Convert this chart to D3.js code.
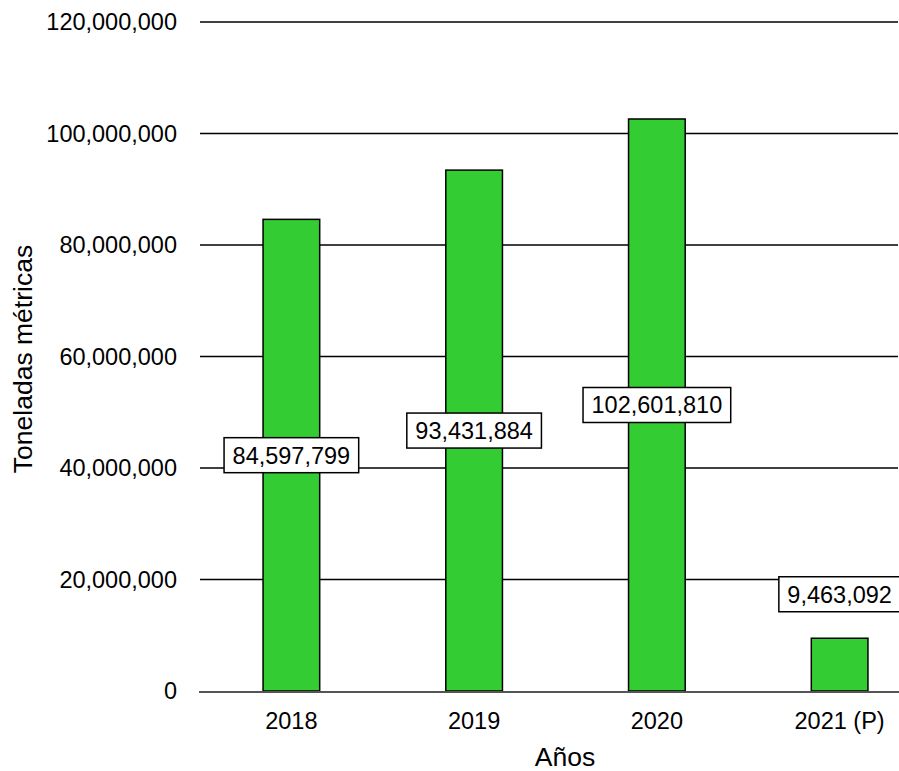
<!DOCTYPE html>
<html>
<head>
<meta charset="utf-8">
<script src="https://cdn.jsdelivr.net/npm/d3@7"></script>
<style>
  body { margin: 0; background: #fff; }
  text { font-family: "Liberation Sans", Arial, sans-serif; fill: #000; }
</style>
</head>
<body>
<div id="chart"></div>
<script>
// Data
const years = ["2018", "2019", "2020", "2021 (P)"];
const tonnes = [84597799, 93431884, 102601810, 9463092];
const yTicks = [0, 20000000, 40000000, 60000000, 80000000, 100000000, 120000000];

const width = 899, height = 771;
const fontSize = 23.5;
const titleSize = 26.5;

const svg = d3.select("#chart").append("svg")
    .attr("width", width)
    .attr("height", height);

const x = d3.scaleBand()
    .domain(years)
    .range([200, 931])
    .paddingInner(0.69)
    .paddingOuter(0.345);

const y = d3.scaleLinear()
    .domain([0, 120000000])
    .range([691, 22]);

const fmt = d3.format(",");

// gridlines
svg.append("g")
    .selectAll("line")
    .data(yTicks.filter(d => d > 0))
    .join("line")
    .attr("x1", 200)
    .attr("x2", 898)
    .attr("y1", d => y(d))
    .attr("y2", d => y(d))
    .attr("stroke", "#000")
    .attr("stroke-width", 1.5);

// y tick labels
svg.append("g")
    .selectAll("text")
    .data(yTicks)
    .join("text")
    .attr("x", 177)
    .attr("y", d => y(d))
    .attr("dy", "0.36em")
    .attr("text-anchor", "end")
    .style("font-size", fontSize + "px")
    .text(d => fmt(d));

// bars
svg.append("g")
    .selectAll("rect")
    .data(years)
    .join("rect")
    .attr("x", d => x(d))
    .attr("width", x.bandwidth())
    .attr("y", (d, i) => y(tonnes[i]))
    .attr("height", (d, i) => y(0) - y(tonnes[i]))
    .attr("fill", "#33cc33")
    .attr("stroke", "#000")
    .attr("stroke-width", 1.5);

// zero line
svg.append("line")
    .attr("x1", 199)
    .attr("x2", 899)
    .attr("y1", y(0) + 1)
    .attr("y2", y(0) + 1)
    .attr("stroke", "#555")
    .attr("stroke-width", 2);

// x tick labels
svg.append("g")
    .selectAll("text")
    .data(years)
    .join("text")
    .attr("x", d => x(d) + x.bandwidth() / 2)
    .attr("y", 729)
    .attr("text-anchor", "middle")
    .style("font-size", fontSize + "px")
    .text(d => d);

// value labels
const labels = svg.append("g")
    .selectAll("g")
    .data(years)
    .join("g")
    .attr("transform", (d, i) => {
        const barH = y(0) - y(tonnes[i]);
        const cy = barH > 100 ? y(tonnes[i] / 2) : y(tonnes[i]) - 44;
        return `translate(${x(d) + x.bandwidth() / 2},${cy})`;
    });

labels.append("text")
    .attr("text-anchor", "middle")
    .attr("dy", "0.36em")
    .style("font-size", fontSize + "px")
    .text((d, i) => fmt(tonnes[i]));

labels.each(function() {
    const g = d3.select(this);
    const bb = g.select("text").node().getBBox();
    g.insert("rect", "text")
        .attr("x", bb.x - 8.5)
        .attr("y", -17.5)
        .attr("width", bb.width + 17)
        .attr("height", 35)
        .attr("fill", "#fff")
        .attr("stroke", "#000")
        .attr("stroke-width", 1.5);
});

// axis titles
svg.append("text")
    .attr("x", 565)
    .attr("y", 766)
    .attr("text-anchor", "middle")
    .style("font-size", titleSize + "px")
    .text("Años");

svg.append("text")
    .attr("transform", "translate(32,359) rotate(-90)")
    .attr("text-anchor", "middle")
    .style("font-size", titleSize + "px")
    .text("Toneladas métricas");
</script>
</body>
</html>
